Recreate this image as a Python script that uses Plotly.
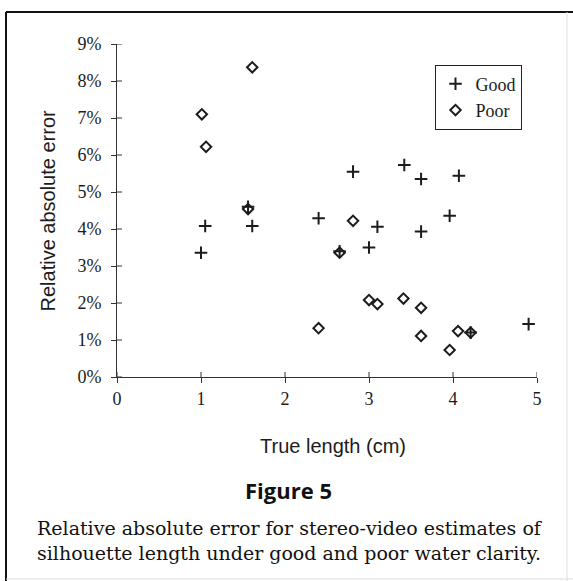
import plotly.graph_objects as go

# ---- data ----
good_x = [1.00, 1.05, 1.56, 1.61, 2.40, 2.65, 2.81, 3.00, 3.10, 3.42, 3.62, 3.62, 3.96, 4.07, 4.21, 4.90]
good_y = [3.36, 4.08, 4.60, 4.08, 4.29, 3.40, 5.55, 3.50, 4.06, 5.73, 5.35, 3.93, 4.36, 5.44, 1.20, 1.43]
poor_x = [1.01, 1.06, 1.56, 1.61, 2.40, 2.65, 2.81, 3.00, 3.10, 3.41, 3.62, 3.62, 3.96, 4.06, 4.21]
poor_y = [7.10, 6.22, 4.54, 8.37, 1.32, 3.36, 4.22, 2.08, 1.97, 2.12, 1.87, 1.11, 0.73, 1.24, 1.20]

x_ticks = [0, 1, 2, 3, 4, 5]
y_ticks = [0, 1, 2, 3, 4, 5, 6, 7, 8, 9]
y_tick_text = [f"{v}%" for v in y_ticks]

W, H = 573, 581
L, R, T, B = 117, 36, 44, 204
PW, PH = W - L - R, H - T - B


def px(x):
    return (x - L) / PW


def py(y):
    return (H - B - y) / PH


INK = "#1c1c1c"
SERIF = "Liberation Serif"
SANS = "Liberation Sans"

fig = go.Figure()
fig.add_trace(go.Scatter(
    x=good_x, y=good_y, mode="markers", name="Good",
    marker=dict(symbol="cross-thin-open", size=9, line=dict(width=2, color=INK), color=INK),
))
fig.add_trace(go.Scatter(
    x=poor_x, y=poor_y, mode="markers", name="Poor",
    marker=dict(symbol="diamond-open", size=8, line=dict(width=2, color=INK), color=INK),
))

# inner halves of the crossing tick marks
shapes = []
for v in x_ticks:
    shapes.append(dict(type="line", xref="x", yref="paper", x0=v, x1=v, y0=0, y1=5 / PH,
                       line=dict(color="#333", width=1)))
for v in y_ticks:
    shapes.append(dict(type="line", xref="paper", yref="y", x0=0, x1=5 / PW, y0=v, y1=v,
                       line=dict(color="#333", width=1)))
# frame around the figure
shapes += [
    dict(type="line", xref="paper", yref="paper", x0=px(6), x1=px(573), y0=py(12), y1=py(12),
         line=dict(color="#111", width=2)),
    dict(type="line", xref="paper", yref="paper", x0=px(6), x1=px(6), y0=py(12), y1=py(581),
         line=dict(color="#111", width=2)),
    dict(type="line", xref="paper", yref="paper", x0=px(567), x1=px(567), y0=py(12), y1=py(581),
         line=dict(color="#dddddd", width=1)),
    dict(type="line", xref="paper", yref="paper", x0=px(6), x1=px(573), y0=py(579), y1=py(579),
         line=dict(color="#dddddd", width=1)),
]

fig.update_layout(
    width=W, height=H, autosize=False,
    margin=dict(l=L, r=R, t=T, b=B, pad=0),
    paper_bgcolor="white", plot_bgcolor="white",
    showlegend=True,
    xaxis=dict(range=[0, 5], tickmode="array", tickvals=x_ticks, ticktext=[str(v) for v in x_ticks],
               ticks="outside", ticklen=5, tickwidth=1, tickcolor="#333",
               showline=True, linecolor="#333", linewidth=1, showgrid=False, zeroline=False,
               ticklabelstandoff=0,
               tickfont=dict(family=SERIF, size=18, color=INK)),
    yaxis=dict(range=[0, 9], tickmode="array", tickvals=y_ticks, ticktext=y_tick_text,
               ticks="outside", ticklen=5, tickwidth=1, tickcolor="#333",
               showline=True, linecolor="#333", linewidth=1, showgrid=False, zeroline=False,
               ticklabelstandoff=6,
               tickfont=dict(family=SERIF, size=18, color=INK)),
    legend=dict(x=px(478), y=py(97), xanchor="center", yanchor="middle",
                bordercolor="#222", borderwidth=1, bgcolor="white",
                font=dict(family=SERIF, size=18, color=INK), itemwidth=30, tracegroupgap=0),
    annotations=[
        dict(text="Relative absolute error", x=px(47), y=0.5, xref="paper", yref="paper",
             textangle=-90, showarrow=False, xanchor="center", yanchor="middle",
             font=dict(family=SANS, size=20, color=INK)),
        dict(text="True length (cm)", x=px(333), y=py(446), xref="paper", yref="paper",
             showarrow=False, xanchor="center", yanchor="middle",
             font=dict(family=SANS, size=20, color=INK)),
        dict(text="<b>Figure 5</b>", x=px(288), y=py(490), xref="paper", yref="paper",
             showarrow=False, xanchor="center", yanchor="middle",
             font=dict(family="Open Sans", size=22, color="#111")),
        dict(text="Relative absolute error for stereo-video estimates of", x=px(35), y=py(528),
             xref="paper", yref="paper", showarrow=False, xanchor="left", yanchor="middle",
             font=dict(family="DejaVu Serif", size=19, color="#111")),
        dict(text="silhouette length under good and poor water clarity.", x=px(35), y=py(553),
             xref="paper", yref="paper", showarrow=False, xanchor="left", yanchor="middle",
             font=dict(family="DejaVu Serif", size=19, color="#111")),
    ],
    shapes=shapes,
)

fig.write_html("out.html", config={"displayModeBar": False},
               post_script="document.body.style.margin='0';")
